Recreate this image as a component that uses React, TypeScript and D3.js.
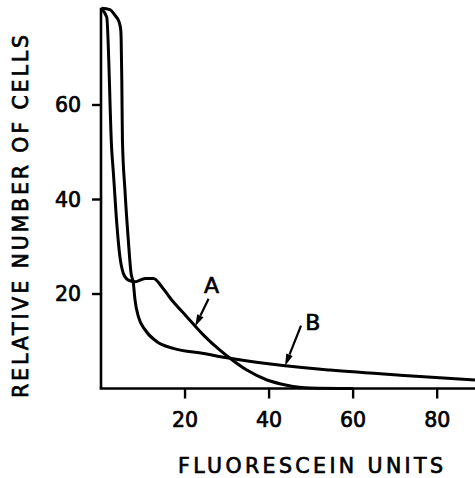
import React from "react";
import * as d3 from "d3";

const xTicks = [20, 40, 60, 80];
const yTicks = [20, 40, 60];

const curveAX = [0.1, 1.36, 2.55, 2.95, 3.75, 4.5, 5.3, 6.4, 8.1, 10.5, 12.5, 14.5, 16.5, 20.4, 24.4, 28.3, 30.7, 34.7, 39.5, 44.2, 49.8, 60];
const curveAY = [80.3, 78.6, 50.5, 45.6, 35.0, 27.9, 24.4, 23.0, 22.6, 23.3, 23.3, 21.5, 19.1, 15.2, 11.3, 8.1, 6.4, 3.9, 1.8, 0.7, 0.1, 0];

const curveBX = [0.1, 2.1, 3.3, 4.3, 4.7, 4.8, 4.95, 5.1, 5.7, 6.5, 7.15, 7.7, 8.1, 8.9, 10.5, 13.3, 17.2, 24.4, 30.7, 43.8, 54.5, 71.2, 89];
const curveBY = [80.5, 80.2, 79, 77.6, 75.9, 73.8, 65.3, 52.6, 42.0, 31.4, 24.4, 22.3, 18.7, 15.2, 12.4, 9.9, 8.5, 7.4, 6.4, 4.8, 3.9, 2.8, 1.8];

const labels = ["A", "B"];
const labelX = [26.3, 50.4];
const labelY = [20.2, 12.4];
const arrowFromX = [25.6, 47.6];
const arrowFromY = [19.0, 13.3];
const arrowToX = [22.4, 43.8];
const arrowToY = [13.1, 4.8];

const xTitle = "FLUORESCEIN UNITS";
const yTitle = "RELATIVE NUMBER OF CELLS";

export default function App() {
  const W = 475, H = 478;
  const x = d3.scaleLinear().domain([0, 89]).range([101, 475]);
  const y = d3.scaleLinear().domain([0, 80]).range([388.5, 10.5]);
  const line = d3
    .line<[number, number]>()
    .x((d) => x(d[0]))
    .y((d) => y(d[1]))
    .curve(d3.curveMonotoneX);
  const a: [number, number][] = curveAX.map((v, i) => [v, curveAY[i]]);
  const b: [number, number][] = curveBX.map((v, i) => [v, curveBY[i]]);
  const font = "'DejaVu Sans', sans-serif";
  const ts = { stroke: "#000", strokeWidth: 0.7 };

  const arrow = (i: number) => {
    const x1 = x(arrowFromX[i]), y1 = y(arrowFromY[i]);
    const x2 = x(arrowToX[i]), y2 = y(arrowToY[i]);
    const ang = Math.atan2(y2 - y1, x2 - x1);
    const len = 12, half = 3.5;
    const bx = x2 - len * Math.cos(ang), by = y2 - len * Math.sin(ang);
    const px = -Math.sin(ang) * half, py = Math.cos(ang) * half;
    return (
      <g key={"arr" + i}>
        <line x1={x1} y1={y1} x2={bx} y2={by} stroke="#000" strokeWidth={2.2} />
        <path d={`M${x2},${y2}L${bx + px},${by + py}L${bx - px},${by - py}Z`} fill="#000" />
      </g>
    );
  };

  return (
    <svg width={W} height={H} style={{ position: "absolute", left: 0, top: 0, background: "#fff" }}>
      <rect width={W} height={H} fill="#fff" />
      <line x1={x(0)} y1={y(0)} x2={x(0)} y2={y(80.6)} stroke="#000" strokeWidth={2.6} />
      <line x1={x(0) - 1.3} y1={y(0)} x2={x(89)} y2={y(0)} stroke="#000" strokeWidth={2.6} />
      {xTicks.map((t) => (
        <g key={"xt" + t}>
          <line x1={x(t)} y1={y(0)} x2={x(t)} y2={y(0) + 10} stroke="#000" strokeWidth={2.4} />
          <text x={x(t)} y={427} textAnchor="middle" fontFamily={font} fontSize={20.5} fill="#000" {...ts}>
            {t}
          </text>
        </g>
      ))}
      {yTicks.map((t) => (
        <g key={"yt" + t}>
          <line x1={x(0)} y1={y(t)} x2={x(0) - 9} y2={y(t)} stroke="#000" strokeWidth={2.4} />
          <text x={81} y={y(t)} dy="0.36em" textAnchor="end" fontFamily={font} fontSize={20.5} fill="#000" {...ts}>
            {t}
          </text>
        </g>
      ))}
      <path d={line(a) || ""} fill="none" stroke="#000" strokeWidth={3} strokeLinejoin="round" />
      <path d={line(b) || ""} fill="none" stroke="#000" strokeWidth={3} strokeLinejoin="round" />
      {labels.map((l, i) => (
        <text key={l} x={x(labelX[i])} y={y(labelY[i])} textAnchor="middle" fontFamily={font} fontSize={22} fill="#000" {...ts}>
          {l}
        </text>
      ))}
      {labels.map((_, i) => arrow(i))}
      <text x={310.5} y={473} textAnchor="middle" fontFamily={font} fontSize={20.5} textLength={265} lengthAdjust="spacing" fill="#000" {...ts}>
        {xTitle}
      </text>
      <text
        transform={`translate(28,216.5) rotate(-90)`}
        textAnchor="middle"
        fontFamily={font}
        fontSize={20.5}
        textLength={363}
        lengthAdjust="spacing"
        fill="#000"
        {...ts}
      >
        {yTitle}
      </text>
    </svg>
  );
}
